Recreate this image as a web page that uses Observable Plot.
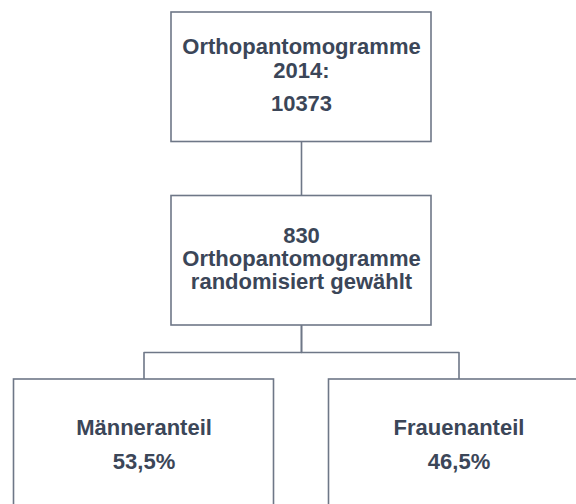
<!DOCTYPE html>
<html><head><meta charset="utf-8">
<script src="https://cdn.jsdelivr.net/npm/d3@7"></script>
<script src="https://cdn.jsdelivr.net/npm/@observablehq/plot@0.6"></script>
<style>html,body{margin:0;padding:0;overflow:hidden;background:#fff}</style>
</head><body><div id="chart"></div>
<script>
// ---- data ----
const nodeIds = ["total", "sample", "men", "women"];
const nodeLines = [
  ["Orthopantomogramme", "2014:", "10373"],
  ["830", "Orthopantomogramme", "randomisiert gewählt"],
  ["Männeranteil", "53,5%"],
  ["Frauenanteil", "46,5%"]
];
const nodeLevels = [0, 1, 2, 2];
const nodeColumns = [0, 0, -1, 1];
const nodeParents = [null, "total", "sample", "sample"];

// ---- layout (pixels) ----
const CX0 = 301, COL_STEP = 157.5, TOP0 = 12, LEVEL_STEP = 183.5;
const BOX_W = 260, BOX_H = 129.5;
const lineOffsets = [[41, 65, 98], [47, 70, 93], [55, 89], [55, 89]];

const nodes = nodeIds.map((id, i) => {
  const cx = CX0 + nodeColumns[i] * COL_STEP;
  const top = TOP0 + nodeLevels[i] * LEVEL_STEP;
  return {id, i, cx, top, x1: cx - BOX_W / 2, x2: cx + BOX_W / 2, y1: top, y2: top + BOX_H};
});
const byId = Object.fromEntries(nodes.map(n => [n.id, n]));

const edgePts = [];
nodes.forEach((n, i) => {
  const pid = nodeParents[i];
  if (!pid) return;
  const p = byId[pid];
  const midY = (p.y2 + n.y1) / 2;
  [[p.cx, p.y2], [p.cx, midY], [n.cx, midY], [n.cx, n.y1]].forEach(([x, y]) => edgePts.push({edge: n.id, x, y}));
});

const labels = [];
nodes.forEach((n, i) => {
  nodeLines[i].forEach((t, j) => labels.push({x: n.cx, y: n.top + lineOffsets[i][j], text: t}));
});

const STROKE = "#6e7787";
const chart = Plot.plot({
  width: 576,
  height: 504,
  margin: 0,
  style: {background: "#fff", overflow: "hidden"},
  x: {domain: [0, 576], range: [0, 576], axis: null},
  y: {domain: [0, 504], range: [0, 504], axis: null},
  marks: [
    Plot.line(edgePts, {x: "x", y: "y", z: "edge", stroke: STROKE, strokeWidth: 1.6}),
    Plot.rect(nodes, {x1: "x1", x2: "x2", y1: "y1", y2: "y2", fill: "#fff", stroke: STROKE, strokeWidth: 1.6}),
    Plot.text(labels, {
      x: "x", y: "y", text: "text",
      textAnchor: "middle", lineAnchor: "bottom",
      fontSize: 22, fontWeight: "bold",
      fontFamily: "'Liberation Sans', Arial, sans-serif",
      fill: "#3b4658"
    })
  ]
});
document.getElementById("chart").appendChild(chart);
</script>
</body></html>
